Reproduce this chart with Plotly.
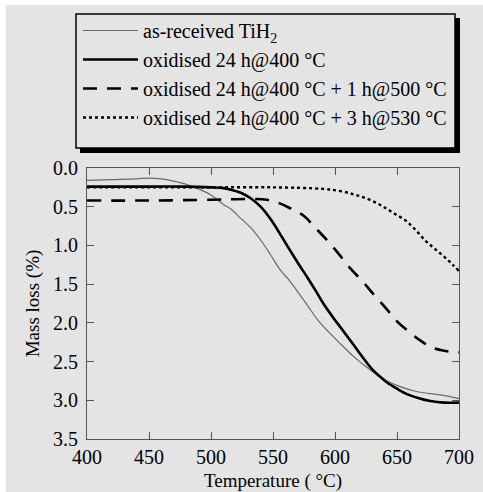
import plotly.graph_objects as go

# ---- data ----
t_asrec = [400, 420, 440, 450, 460, 470, 480, 490, 500, 510, 516, 524, 532, 540, 548, 556, 562, 570,
           578, 586, 595, 605, 614, 623, 632, 642, 652, 664, 675, 685, 692, 700]
m_asrec = [0.16, 0.15, 0.14, 0.13, 0.14, 0.17, 0.21, 0.27, 0.35, 0.47, 0.53, 0.65, 0.77, 0.93, 1.12, 1.32, 1.43, 1.60,
           1.78, 1.96, 2.12, 2.28, 2.42, 2.54, 2.65, 2.75, 2.82, 2.88, 2.91, 2.93, 2.95, 2.98]

t_ox400 = [400, 450, 480, 500, 510, 516, 524, 532, 540, 548, 556, 564, 571, 578, 585, 591, 598, 605,
           612, 618, 624, 630, 636, 642, 650, 658, 667, 677, 688, 700]
m_ox400 = [0.24, 0.24, 0.24, 0.25, 0.26, 0.28, 0.32, 0.39, 0.50, 0.66, 0.86, 1.07, 1.25, 1.42, 1.60, 1.76, 1.92, 2.07,
           2.22, 2.35, 2.48, 2.60, 2.69, 2.77, 2.85, 2.92, 2.97, 3.01, 3.03, 3.03]

t_ox500 = [400, 450, 500, 530, 545, 556, 565, 575, 584, 594, 603, 612, 622, 631, 641, 650, 660, 669,
           677, 685, 692, 700]
m_ox500 = [0.42, 0.42, 0.41, 0.40, 0.41, 0.46, 0.53, 0.62, 0.77, 0.94, 1.11, 1.29, 1.46, 1.63, 1.81, 1.98, 2.12, 2.23,
           2.31, 2.35, 2.37, 2.38]

t_ox530 = [400, 450, 500, 550, 590, 605, 615, 623, 632, 640, 648, 657, 665, 673, 681, 689, 695, 700]
m_ox530 = [0.25, 0.25, 0.25, 0.25, 0.27, 0.30, 0.34, 0.38, 0.44, 0.51, 0.59, 0.68, 0.80, 0.94, 1.05, 1.16, 1.25, 1.33]

names = ["as-received TiH<sub>2</sub>",
         "oxidised 24 h@400 °C",
         "oxidised 24 h@400 °C + 1 h@500 °C",
         "oxidised 24 h@400 °C + 3 h@530 °C"]

x_ticks = [400, 450, 500, 550, 600, 650, 700]
y_ticks = [0.0, 0.5, 1.0, 1.5, 2.0, 2.5, 3.0, 3.5]

BG = "#e4e4e4"
FONT = "Liberation Serif"

fig = go.Figure()
fig.add_trace(go.Scatter(x=t_asrec, y=m_asrec, mode="lines", name=names[0], legendgroup="a",
                         line=dict(color="#6a6a6a", width=1.2, shape="spline")))
fig.add_trace(go.Scatter(x=t_ox400, y=m_ox400, mode="lines", name=names[1], legendgroup="b",
                         line=dict(color="black", width=2.6, shape="spline")))
fig.add_trace(go.Scatter(x=t_ox500, y=m_ox500, mode="lines", name=names[2], legendgroup="c",
                         line=dict(color="black", width=2.6, dash="14px,10px", shape="spline")))
fig.add_trace(go.Scatter(x=t_ox530, y=m_ox530, mode="lines", name=names[3], legendgroup="d",
                         line=dict(color="black", width=2.4, dash="3px,3px", shape="spline")))

# plot area geometry (pixels) for paper conversion of legend frame
L, R, T, B = 87, 459, 168, 439
W, H = R - L, B - T
def px(x):
    return (x - L) / W
def py(y):
    return (B - y) / H

shapes = [
    # white edges of scanned page
    dict(type="rect", xref="paper", yref="paper", x0=px(0), x1=px(483), y0=py(0), y1=py(5),
         fillcolor="white", line=dict(width=0), layer="above"),
    dict(type="rect", xref="paper", yref="paper", x0=px(0), x1=px(6), y0=py(0), y1=py(492),
         fillcolor="white", line=dict(width=0), layer="above"),
    # legend shadow
    dict(type="rect", xref="paper", yref="paper", x0=px(80), x1=px(460), y0=py(153), y1=py(18),
         fillcolor="black", line=dict(width=0), layer="above"),
    # legend frame
    dict(type="rect", xref="paper", yref="paper", x0=px(76), x1=px(455), y0=py(148), y1=py(14),
         fillcolor=BG, line=dict(color="black", width=1.5), layer="above"),
]

axis_common = dict(showline=True, linecolor="#555555", linewidth=1.2, mirror="ticks",
                   ticks="inside", ticklen=7, tickcolor="#555555", tickwidth=1.2,
                   showgrid=False, zeroline=False, automargin=False,
                   tickfont=dict(family=FONT, size=20, color="black"))

fig.update_layout(
    template="none",
    width=483, height=492,
    margin=dict(l=L, r=483 - R, t=T, b=492 - B, autoexpand=False),
    paper_bgcolor=BG, plot_bgcolor=BG,
    font=dict(family=FONT, size=20, color="black"),
    shapes=shapes,
    showlegend=True,
    legend=dict(x=px(78), y=py(11), xanchor="left", yanchor="top",
                bgcolor="rgba(0,0,0,0)", borderwidth=0,
                font=dict(family=FONT, size=20, color="black"),
                itemwidth=55, tracegroupgap=2, traceorder="normal"),
    xaxis=dict(range=[400, 700], tickvals=x_ticks, ticktext=[str(v) for v in x_ticks],
               title=dict(text="Temperature ( °C)", font=dict(family=FONT, size=19), standoff=7),
               **axis_common),
    yaxis=dict(range=[3.5, 0.0], tickvals=y_ticks, ticktext=[f"{v:.1f}" for v in y_ticks],
               ticklabelstandoff=4,
               title=dict(text="Mass loss (%)", font=dict(family=FONT, size=19), standoff=8),
               **axis_common),
)

fig.write_html("out.html", config={"displayModeBar": False},
               post_script="document.body.style.margin='0';")
